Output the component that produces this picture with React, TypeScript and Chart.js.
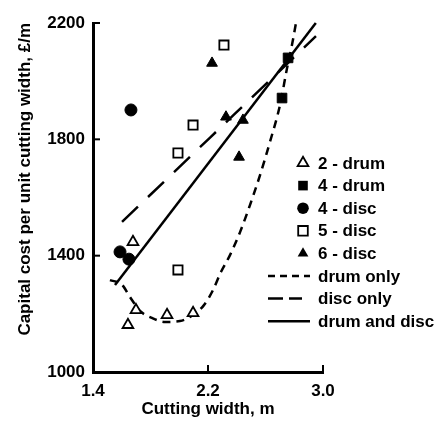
import React, { useEffect, useRef } from 'react';
import { Chart, registerables } from 'chart.js';

Chart.register(...registerables);

// ---- axis ranges / ticks ----
const X_MIN = 1.4;
const X_MAX = 3.0;
const Y_MIN = 1000;
const Y_MAX = 2200;
const xTickValues = [1.4, 2.2, 3.0];
const yTickValues = [1000, 1400, 1800, 2200];

// ---- titles ----
const xTitle = 'Cutting width, m';
const yTitle = 'Capital cost per unit cutting width, £/m';

// ---- series labels ----
const seriesLabels = ['2 - drum', '4 - drum', '4 - disc', '5 - disc', '6 - disc', 'drum only', 'disc only', 'drum and disc'];

// ---- scatter data ----
const drum2X = [1.678, 1.699, 1.643, 1.915, 2.096];
const drum2Y = [1447, 1213, 1162, 1196, 1203];
const drum4X = [2.757, 2.715];
const drum4Y = [2080, 1942];
const disc4X = [1.664, 1.588, 1.65];
const disc4Y = [1901, 1413, 1388];
const disc5X = [2.311, 2.096, 1.991, 1.991];
const disc5Y = [2124, 1849, 1753, 1351];
const disc6X = [2.228, 2.325, 2.443, 2.416];
const disc6Y = [2062, 1877, 1866, 1739];

// ---- fitted curves ----
const drumOnlyX = [1.518, 1.602, 1.657, 1.727, 1.81, 1.901, 2.005, 2.096, 2.172, 2.235, 2.29, 2.353, 2.423, 2.492, 2.562, 2.631, 2.701, 2.75, 2.784, 2.812];
const drumOnlyY = [1316, 1300, 1258, 1210, 1186, 1172, 1175, 1196, 1230, 1282, 1344, 1402, 1481, 1574, 1677, 1791, 1918, 2045, 2124, 2200];
const discOnlyX = [1.602, 2.951];
const discOnlyY = [1516, 2155];
const bothX = [1.553, 2.95];
const bothY = [1299, 2200];

const zip = (xs: number[], ys: number[]) => xs.map((x, i) => ({ x, y: ys[i] }));

const FONT = { family: 'Liberation Sans, Arial, sans-serif', size: 17, weight: 'bold' as const };

const innerTicks = {
  id: 'innerTicks',
  afterDraw(chart: any) {
    const { ctx, chartArea } = chart;
    const xs = chart.scales.x;
    const ys = chart.scales.y;
    ctx.save();
    ctx.strokeStyle = '#000';
    ctx.lineWidth = 2;
    xTickValues.slice(1).forEach((v) => {
      const px = xs.getPixelForValue(v);
      ctx.beginPath();
      ctx.moveTo(px, chartArea.bottom);
      ctx.lineTo(px, chartArea.bottom - 7);
      ctx.stroke();
    });
    yTickValues.slice(1).forEach((v) => {
      const py = ys.getPixelForValue(v);
      ctx.beginPath();
      ctx.moveTo(chartArea.left, py);
      ctx.lineTo(chartArea.left + 7, py);
      ctx.stroke();
    });
    ctx.restore();
  },
};

const customLegend = {
  id: 'customLegend',
  afterDraw(chart: any) {
    const { ctx } = chart;
    const top = 163;
    const step = 22.6;
    const markerX = 303;
    const textX = 318;
    ctx.save();
    ctx.font = `bold 17px 'Liberation Sans', Arial, sans-serif`;
    ctx.textBaseline = 'middle';
    ctx.textAlign = 'left';
    chart.data.datasets.forEach((ds: any, i: number) => {
      const y = top + i * step;
      ctx.fillStyle = '#000';
      ctx.strokeStyle = '#000';
      if (ds.showLine) {
        ctx.lineWidth = 2.5;
        ctx.setLineDash(ds.legendDash || []);
        ctx.beginPath();
        ctx.moveTo(268, y);
        ctx.lineTo(ds.legendEnd || 310, y);
        ctx.stroke();
        ctx.setLineDash([]);
      } else {
        const r = 6.2;
        ctx.lineWidth = 1.8;
        ctx.beginPath();
        if (ds.pointStyle === 'triangle') {
          ctx.moveTo(markerX, y - r);
          ctx.lineTo(markerX + r * 0.866, y + r * 0.5);
          ctx.lineTo(markerX - r * 0.866, y + r * 0.5);
          ctx.closePath();
        } else if (ds.pointStyle === 'rect') {
          ctx.rect(markerX - 4.8, y - 4.8, 9.6, 9.6);
        } else {
          ctx.arc(markerX, y, 5.8, 0, Math.PI * 2);
        }
        if (ds.backgroundColor === '#000') {
          ctx.fill();
        } else {
          ctx.fillStyle = '#fff';
          ctx.fill();
          ctx.stroke();
        }
      }
      ctx.fillStyle = '#000';
      ctx.fillText(ds.label, textX, y + 1);
    });
    ctx.restore();
  },
};

export default function App() {
  const ref = useRef<HTMLCanvasElement | null>(null);

  useEffect(() => {
    if (!ref.current) return;
    const pointDs = (label: string, xs: number[], ys: number[], style: string, filled: boolean, radius: number) => ({
      label,
      data: zip(xs, ys),
      pointStyle: style,
      pointRadius: radius,
      backgroundColor: filled ? '#000' : '#fff',
      borderColor: '#000',
      borderWidth: filled ? 1 : 1.8,
      showLine: false,
    });
    const lineDs = (label: string, xs: number[], ys: number[], dash: number[], legendDash: number[], legendEnd: number) => ({
      label,
      data: zip(xs, ys),
      showLine: true,
      pointRadius: 0,
      borderColor: '#000',
      backgroundColor: '#000',
      borderWidth: 2.5,
      borderDash: dash,
      cubicInterpolationMode: 'monotone',
      clip: false,
      legendDash,
      legendEnd,
    });
    const chart = new Chart(ref.current, {
      type: 'scatter',
      data: {
        datasets: [
          pointDs(seriesLabels[0], drum2X, drum2Y, 'triangle', false, 6.2),
          pointDs(seriesLabels[1], drum4X, drum4Y, 'rect', true, 6.8),
          pointDs(seriesLabels[2], disc4X, disc4Y, 'circle', true, 6),
          pointDs(seriesLabels[3], disc5X, disc5Y, 'rect', false, 6.5),
          pointDs(seriesLabels[4], disc6X, disc6Y, 'triangle', true, 6.2),
          lineDs(seriesLabels[5], drumOnlyX, drumOnlyY, [8, 6], [7, 5], 310),
          lineDs(seriesLabels[6], discOnlyX, discOnlyY, [22, 14], [15, 6], 302),
          lineDs(seriesLabels[7], bothX, bothY, [], [], 310),
        ] as any,
      },
      options: {
        animation: false,
        responsive: false,
        maintainAspectRatio: false,
        layout: { padding: { left: 0, right: 118, top: 23, bottom: 0 } },
        plugins: {
          legend: { display: false },
          tooltip: { enabled: false },
        },
        scales: {
          x: {
            type: 'linear',
            min: X_MIN,
            max: X_MAX,
            grid: { display: false, drawTicks: false },
            border: { display: true, width: 3, color: '#000' },
            afterBuildTicks: (s: any) => {
              s.ticks = xTickValues.map((v) => ({ value: v }));
            },
            afterFit: (s: any) => {
              s.height = 51;
            },
            ticks: {
              color: '#000',
              font: FONT,
              padding: 9,
              maxRotation: 0,
              callback: (v: any) => Number(v).toFixed(1),
            },
            title: {
              display: true,
              text: xTitle,
              color: '#000',
              font: FONT,
              padding: { top: 0, bottom: 3 },
            },
          },
          y: {
            type: 'linear',
            min: Y_MIN,
            max: Y_MAX,
            grid: { display: false, drawTicks: false },
            border: { display: true, width: 3, color: '#000' },
            afterBuildTicks: (s: any) => {
              s.ticks = yTickValues.map((v) => ({ value: v }));
            },
            afterFit: (s: any) => {
              s.width = 93;
            },
            ticks: {
              color: '#000',
              font: FONT,
              padding: 8,
              callback: (v: any) => String(v),
            },
            title: {
              display: true,
              text: yTitle,
              color: '#000',
              font: FONT,
              align: 'end',
              padding: { top: 15, bottom: 0 },
            },
          },
        },
      } as any,
      plugins: [innerTicks, customLegend],
    });
    return () => chart.destroy();
  }, []);

  return (
    <div style={{ position: 'absolute', left: 0, top: 0, width: 441, height: 423, background: '#fff' }}>
      <canvas ref={ref} width={441} height={423} style={{ width: 441, height: 423, display: 'block' }} />
    </div>
  );
}
